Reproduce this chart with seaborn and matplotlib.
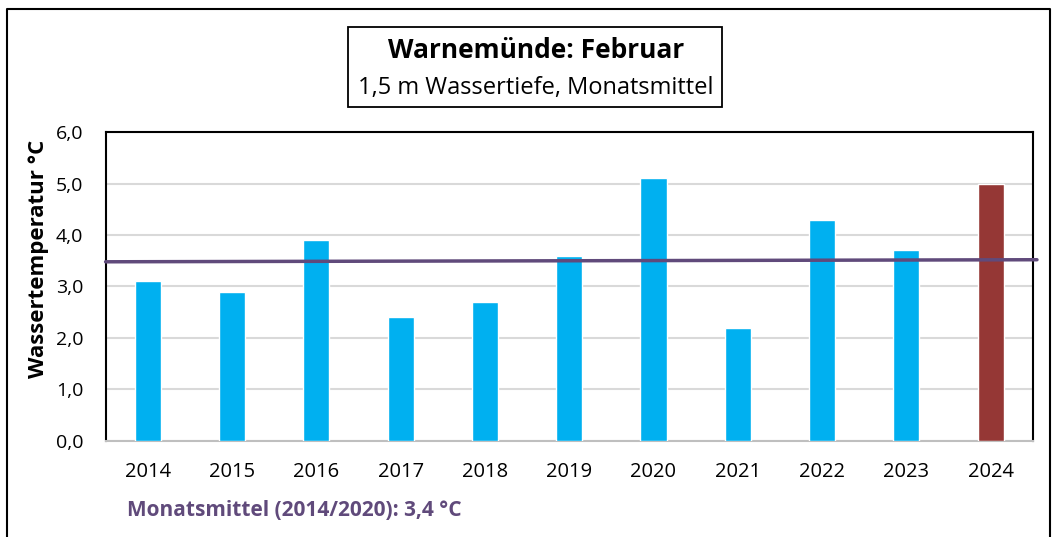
import matplotlib
matplotlib.use("Agg")
import matplotlib.pyplot as plt
import seaborn as sns
import pandas as pd
from matplotlib.patches import Rectangle

years = ["2014", "2015", "2016", "2017", "2018", "2019", "2020", "2021", "2022", "2023", "2024"]
temps = [3.1, 2.9, 3.9, 2.4, 2.7, 3.6, 5.1, 2.2, 4.3, 3.7, 5.0]
kind = ["past"] * 10 + ["current"]
mean_line = [3.48, 3.52]
yticks = [0.0, 1.0, 2.0, 3.0, 4.0, 5.0, 6.0]

df = pd.DataFrame({"Jahr": years, "Temp": temps, "Art": kind})

sns.set_theme(style="white")
plt.rcParams["font.family"] = ["Open Sans", "DejaVu Sans"]
plt.rcParams["text.color"] = "black"
plt.rcParams["xtick.color"] = "black"
plt.rcParams["ytick.color"] = "black"
plt.rcParams["axes.labelcolor"] = "black"

fig = plt.figure(figsize=(10.56, 5.37), dpi=100)
ax = fig.add_axes([0.100, 0.179, 0.878, 0.575])

sns.barplot(data=df, x="Jahr", y="Temp", hue="Art",
            palette={"past": "#00B0F0", "current": "#953735"}, saturation=1,
            width=0.31, dodge=False, legend=False, ax=ax, zorder=3)

ax.set_ylim(0, 6)
ax.set_xlim(-0.5, 10.5)
ax.set_yticks(yticks)
ax.set_yticklabels([f"{v:.1f}".replace(".", ",") for v in yticks], fontsize=14)
ax.tick_params(axis="x", labelsize=14.5, pad=15, length=0)
ax.tick_params(axis="y", length=0, pad=16)
ax.grid(axis="y", color="#D9D9D9", linewidth=1.5, zorder=0)
ax.set_xlabel("")
ax.set_ylabel("Wassertemperatur °C", fontsize=16, fontweight="bold", labelpad=5)
ax.yaxis.set_label_coords(-0.061, 0.59)
for side in ["left", "top", "right"]:
    ax.spines[side].set_color("black")
    ax.spines[side].set_linewidth(1.5)
ax.spines["bottom"].set_color("#BFBFBF")
ax.spines["bottom"].set_linewidth(1.5)

ax.plot([-0.5, 10.55], mean_line, color="#604A7B", linewidth=2.5, zorder=4, clip_on=False)

# title box
fig.patches.append(Rectangle((348 / 1056, 1 - 107 / 537), 374 / 1056, 80 / 537,
                             transform=fig.transFigure, fill=False,
                             edgecolor="black", linewidth=1.3))
fig.text(536 / 1056, 1 - 50 / 537, "Warnemünde: Februar", ha="center", va="center",
         fontsize=19, fontweight="bold")
fig.text(536 / 1056, 1 - 88 / 537, "1,5 m Wassertiefe, Monatsmittel", ha="center",
         va="center", fontsize=17)

fig.text(127 / 1056, 1 - 511 / 537, "Monatsmittel (2014/2020): 3,4 °C", ha="left",
         va="center", fontsize=15, fontweight="bold", color="#604A7B")

# outer frame
fig.lines.append(plt.Line2D([7 / 1056, 7 / 1056, 1050 / 1056, 1050 / 1056],
                            [0, 1 - 9 / 537, 1 - 9 / 537, 0],
                            transform=fig.transFigure, color="black", linewidth=1.5))

fig.savefig("out.png", dpi=100)
